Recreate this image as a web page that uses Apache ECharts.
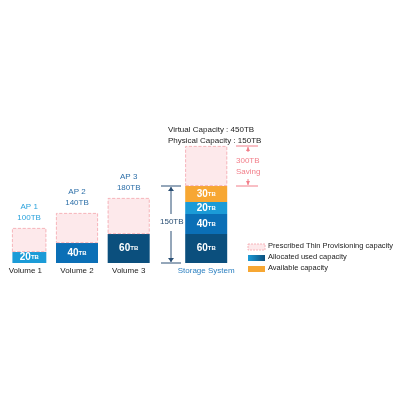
<!DOCTYPE html>
<html>
<head>
<meta charset="utf-8">
<script src="https://cdn.jsdelivr.net/npm/echarts@6/dist/echarts.min.js"></script>
<style>html,body{margin:0;background:#fff}#c{width:400px;height:400px}</style>
</head>
<body>
<div id="c"></div>
<script>
// categories (blank slots keep the gap between the volumes and the storage system)
var categories = ['Volume 1', '', 'Volume 2', '', 'Volume 3', '', '', 'Storage System', '', '', '', '', '', '', ''];
// TB values shown in the labels
var usedTB = [20, 40, 60];
var provisionTB = [100, 140, 180];
var storageTB = [60, 40, 20, 30];
// schematic bar heights as drawn (chart units)
var usedH = [11, 20, 29];
var provisionH = [24, 30, 36];
var storageH = [29, 20, 12, 16];
var savingH = 40;

function slot(vals) {
	var d = categories.map(function() { return null; });
	vals.forEach(function(v, i) { d[i * 2] = v; });
	return d;
}
function at7(v) {
	var d = categories.map(function() { return null; });
	d[7] = v;
	return d;
}
var volColors = ['#1b9bd7', '#0b6fb6', '#0b4f7d'];
var stColors = ['#0b4f7d', '#0b6fb6', '#1b9bd7', '#f7a733'];
var rich = { n: { fontSize: 10, fontWeight: 'bold', color: '#fff' }, u: { fontSize: 6, fontWeight: 'bold', color: '#fff' } };

var series = [];
series.push({
	type: 'bar', stack: 's', barWidth: 42,
	data: slot(usedH).map(function(v, i) { return v == null ? null : { value: v, itemStyle: { color: volColors[i / 2] } }; }),
	label: { show: true, rich: rich, formatter: function(p) { return '{n|' + usedTB[p.dataIndex / 2] + '}{u|TB}'; } }
});
series.push({
	type: 'bar', stack: 's', barWidth: 42,
	data: slot(provisionH),
	itemStyle: { color: '#fde9eb', borderColor: '#f4a3ab', borderType: 'dashed', borderWidth: 0.8 },
	label: { show: true, position: 'top', fontSize: 8, lineHeight: 11,
		formatter: function(p) { var k = p.dataIndex / 2; return 'AP ' + (k + 1) + '\n' + provisionTB[k] + 'TB'; },
		color: '#2d6fa8' }
});
series[1].data[0] = { value: provisionH[0], label: { color: '#2aa2dc' } };
storageH.forEach(function(h, i) {
	series.push({
		type: 'bar', stack: 's', barWidth: 42,
		data: at7(h), itemStyle: { color: stColors[i] },
		label: { show: true, rich: rich, formatter: function() { return '{n|' + storageTB[i] + '}{u|TB}'; } }
	});
});
series.push({
	type: 'bar', stack: 's', barWidth: 42, data: at7(savingH),
	itemStyle: { color: '#fde9eb', borderColor: '#f4a3ab', borderType: 'dashed', borderWidth: 0.8 }
});

var dark = '#2a4f74', pink = '#f27f8a';
var chart = echarts.init(document.getElementById('c'));
chart.setOption({
	animation: false,
	grid: { left: 12.4, width: 393.75, top: 100, bottom: 137 },
	xAxis: {
		type: 'category', data: categories, axisLine: { show: false }, axisTick: { show: false },
		axisLabel: { interval: 0, fontSize: 8, color: '#222', margin: 4,
			formatter: function(v) { return v == 'Storage System' ? '{b|' + v + '}' : v; },
			rich: { b: { fontSize: 8, color: '#2a7fc0' } } }
	},
	yAxis: { type: 'value', min: 0, max: 163, show: false },
	series: series,
	graphic: [
		{ type: 'text', left: 168, top: 124, style: { text: 'Virtual Capacity : 450TB\nPhysical Capacity : 150TB', fontSize: 8, lineHeight: 11, fill: '#222' } },
		{ type: 'line', shape: { x1: 171, y1: 187, x2: 171, y2: 214 }, style: { stroke: dark, lineWidth: 1 } },
		{ type: 'line', shape: { x1: 171, y1: 231, x2: 171, y2: 262 }, style: { stroke: dark, lineWidth: 1 } },
		{ type: 'line', shape: { x1: 161, y1: 186, x2: 181, y2: 186 }, style: { stroke: dark, lineWidth: 1 } },
		{ type: 'line', shape: { x1: 161, y1: 263, x2: 181, y2: 263 }, style: { stroke: dark, lineWidth: 1 } },
		{ type: 'polygon', shape: { points: [[168, 191], [174, 191], [171, 187]] }, style: { fill: dark } },
		{ type: 'polygon', shape: { points: [[168, 258], [174, 258], [171, 262]] }, style: { fill: dark } },
		{ type: 'text', left: 160, top: 218, style: { text: '150TB', fontSize: 8, fill: dark } },
		{ type: 'line', shape: { x1: 248, y1: 147, x2: 248, y2: 152 }, style: { stroke: pink, lineWidth: 1 } },
		{ type: 'line', shape: { x1: 248, y1: 179, x2: 248, y2: 185 }, style: { stroke: pink, lineWidth: 1 } },
		{ type: 'line', shape: { x1: 236, y1: 146, x2: 258, y2: 146 }, style: { stroke: pink, lineWidth: 1 } },
		{ type: 'line', shape: { x1: 236, y1: 186, x2: 258, y2: 186 }, style: { stroke: pink, lineWidth: 1 } },
		{ type: 'polygon', shape: { points: [[246, 151], [250, 151], [248, 147]] }, style: { fill: pink } },
		{ type: 'polygon', shape: { points: [[246, 181], [250, 181], [248, 185]] }, style: { fill: pink } },
		{ type: 'text', left: 236, top: 155, style: { text: '300TB\nSaving', fontSize: 8, lineHeight: 11, fill: pink, align: 'center', x: 12 } },
		{ type: 'rect', shape: { x: 248, y: 244, width: 17, height: 6 }, style: { fill: '#fde9eb', stroke: '#f4a3ab', lineDash: [2, 1], lineWidth: 0.8 } },
		{ type: 'rect', shape: { x: 248, y: 255, width: 17, height: 6 }, style: { fill: { type: 'linear', x: 0, y: 0, x2: 1, y2: 0, colorStops: [{ offset: 0, color: '#1b9bd7' }, { offset: 1, color: '#0b4f7d' }] } } },
		{ type: 'rect', shape: { x: 248, y: 266, width: 17, height: 6 }, style: { fill: '#f7a733' } },
		{ type: 'text', left: 268, top: 242, style: { text: 'Prescribed Thin Provisioning capacity', fontSize: 7.5, fill: '#222' } },
		{ type: 'text', left: 268, top: 253, style: { text: 'Allocated used capacity', fontSize: 7.5, fill: '#222' } },
		{ type: 'text', left: 268, top: 264, style: { text: 'Available capacity', fontSize: 7.5, fill: '#222' } }
	]
});
</script>
</body>
</html>
